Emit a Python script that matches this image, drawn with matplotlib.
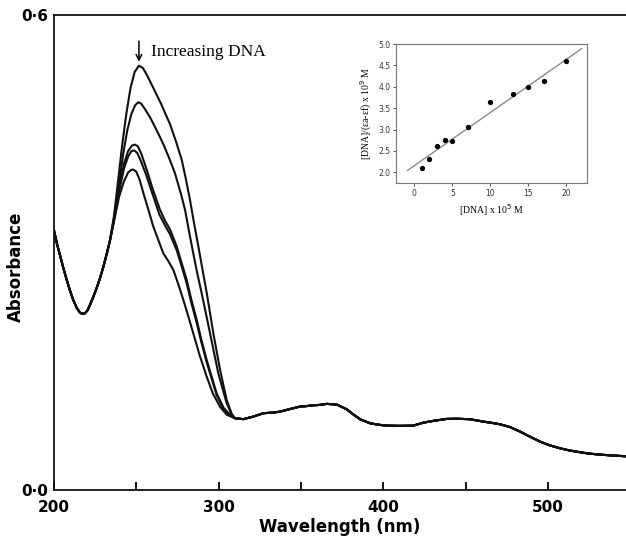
import numpy as np
import matplotlib
matplotlib.use("Agg")
import matplotlib.pyplot as plt

# ---------------- data: main UV-Vis spectra ----------------
# common part at short wavelength (all titrations overlap)
wl_left = [200, 201.8, 203.6, 205.6, 207.7, 209.7, 211.7, 213.8, 215.8, 217.3, 218.8, 220.4, 221.9, 223.9, 225.9, 228, 230, 232, 234]
a_left = [0.328, 0.311, 0.297, 0.281, 0.2656, 0.252, 0.240, 0.230, 0.2240, 0.2225, 0.2232, 0.227, 0.234, 0.244, 0.255, 0.268, 0.282, 0.298, 0.315]

# individual peak regions (increasing DNA -> decreasing absorbance)
wl_c1 = [236.5, 239, 241.5, 244, 246.5, 249, 251.6, 254, 256.5, 260.3, 265, 270.5, 274, 277.6, 280, 282.6, 285, 287.7, 290, 292.8, 296.8, 300.9, 304.9, 308]
a_c1 = [0.347, 0.392, 0.437, 0.476, 0.508, 0.528, 0.536, 0.533, 0.524, 0.508, 0.488, 0.462, 0.441, 0.417, 0.394, 0.3667, 0.338, 0.3077, 0.281, 0.2487, 0.198, 0.1517, 0.1138, 0.096]

wl_c2 = [236.5, 239.5, 242, 244.5, 247, 249.3, 251.2, 253, 255, 258.3, 262, 266.4, 270, 273.5, 277, 279.6, 282, 284.6, 287, 289.7, 294.8, 299.8, 304.9, 308]
a_c2 = [0.344, 0.386, 0.424, 0.454, 0.475, 0.486, 0.4898, 0.488, 0.482, 0.471, 0.456, 0.437, 0.419, 0.400, 0.375, 0.354, 0.327, 0.299, 0.274, 0.2487, 0.198, 0.1476, 0.1096, 0.095]

wl_c3 = [236.5, 239.5, 242.5, 245, 247.3, 249.2, 251, 253, 256.3, 260, 264.4, 267.5, 270.5, 274.5, 277.5, 280.6, 283.5, 286.7, 289.5, 292.8, 298.8, 303, 307]
a_c3 = [0.342, 0.380, 0.412, 0.428, 0.435, 0.4363, 0.434, 0.425, 0.4047, 0.380, 0.354, 0.340, 0.329, 0.308, 0.287, 0.2656, 0.240, 0.215, 0.190, 0.164, 0.122, 0.104, 0.0948]

wl_c4 = [236.5, 239.5, 242.5, 245, 247, 248.6, 250.5, 252.5, 256, 260, 264, 267.5, 270.5, 274.5, 277.5, 280.6, 283.5, 286.7, 289.5, 292.8, 298.8, 303, 307]
a_c4 = [0.341, 0.377, 0.406, 0.421, 0.428, 0.429, 0.426, 0.417, 0.398, 0.373, 0.348, 0.334, 0.323, 0.303, 0.283, 0.261, 0.236, 0.211, 0.187, 0.161, 0.120, 0.102, 0.094]

wl_c5 = [236.5, 239.5, 242.5, 245, 247, 248.2, 250, 252, 254.3, 257.5, 260.3, 263.5, 266.4, 269.5, 272.5, 275.5, 278.6, 281.5, 284.6, 288.5, 292.8, 296.5, 300.9, 305]
a_c5 = [0.340, 0.370, 0.390, 0.401, 0.4045, 0.4047, 0.402, 0.392, 0.375, 0.353, 0.333, 0.315, 0.299, 0.289, 0.278, 0.260, 0.240, 0.220, 0.198, 0.170, 0.143, 0.122, 0.105, 0.095]

# common tail (all titrations overlap)
wl_tail = [310, 315, 321.1, 327.2, 333.3, 337.3, 341, 345.4, 349.5, 353.5, 357.5, 361.6, 365.7, 371.8, 377.8, 381.5, 385.9, 392, 397, 402.1, 410, 418.3, 424.4, 431, 438.6, 445, 452.7, 460.8, 466, 471, 477, 483.1, 489, 495.3, 501, 507.4, 513, 519.6, 525, 531.7, 539, 547.5]
a_tail = [0.0906, 0.0895, 0.0927, 0.097, 0.0978, 0.099, 0.101, 0.1033, 0.1054, 0.106, 0.107, 0.1075, 0.1088, 0.1079, 0.102, 0.096, 0.0894, 0.0843, 0.0825, 0.0813, 0.0810, 0.0813, 0.0851, 0.0875, 0.0898, 0.0900, 0.0894, 0.0864, 0.0848, 0.083, 0.0795, 0.0738, 0.0675, 0.0611, 0.0565, 0.0527, 0.050, 0.0477, 0.0460, 0.0447, 0.0436, 0.0426]

peaks_wl = [wl_c1, wl_c2, wl_c3, wl_c4, wl_c5]
peaks_a = [a_c1, a_c2, a_c3, a_c4, a_c5]

xtick_major = [200, 300, 400, 500]
xtick_minor = [250, 350, 450]
ytick_vals = [0.0, 0.6]
ytick_labels = ["0·0", "0·6"]

# ---------------- data: inset (binding plot) ----------------
dna = [1, 2, 3, 4, 5, 7, 10, 13, 15, 17, 20]
ratio = [2.10, 2.32, 2.61, 2.75, 2.73, 3.05, 3.64, 3.82, 3.99, 4.14, 4.61]
fit_range = [-0.9, 22.0]
inset_xticks = [0, 5, 10, 15, 20]
inset_yticks = [2.0, 2.5, 3.0, 3.5, 4.0, 4.5, 5.0]

# ---------------- figure ----------------
fig = plt.figure(figsize=(6.26, 5.39), dpi=100)
ax = fig.add_axes([54 / 626, 1 - 490 / 539, 1 - 54 / 626, (490 - 15) / 539])

for pw, pa in zip(peaks_wl, peaks_a):
    x = np.concatenate([wl_left, pw, wl_tail])
    y = np.concatenate([a_left, pa, a_tail])
    ax.plot(x, y, color="#111111", lw=1.5, solid_joinstyle="round", solid_capstyle="round")

ax.set_xlim(200, 547.5)
ax.set_ylim(0, 0.6)
ax.spines["right"].set_visible(False)
for s in ["left", "top", "bottom"]:
    ax.spines[s].set_linewidth(1.3)
    ax.spines[s].set_color("#111111")

tickfont = dict(family="DejaVu Sans", weight="bold", size=11)
ax.set_xticks(xtick_major)
ax.set_xticklabels([str(v) for v in xtick_major], fontdict=tickfont)
ax.set_xticks(xtick_minor, minor=True)
ax.tick_params(axis="x", which="both", direction="in", length=6, width=1.3, pad=7, top=False)
ax.set_yticks(ytick_vals)
ax.set_yticklabels(ytick_labels, fontdict=tickfont)
ax.tick_params(axis="y", length=0, pad=4)

ax.set_xlabel("Wavelength (nm)", family="DejaVu Sans", weight="bold", size=12, labelpad=2)
ax.set_ylabel("Absorbance", family="DejaVu Sans", weight="bold", size=12)
ax.yaxis.set_label_coords(-0.051, 0.47)

ax.annotate("", xy=(251.6, 0.541), xytext=(251.6, 0.567),
            arrowprops=dict(arrowstyle="->", lw=1.1, color="black", shrinkA=0, shrinkB=0))
ax.text(259.0, 0.553, "Increasing DNA", family="Liberation Serif", size=12.5,
        ha="left", va="center")

# ---------------- inset ----------------
ins = fig.add_axes([396 / 626, 1 - 183 / 539, (587 - 396) / 626, (183 - 44) / 539])
slope, icpt = np.polyfit(dna, ratio, 1)
fx = np.array(fit_range)
ins.plot(fx, slope * fx + icpt, color="#8a8a8a", lw=1.0)
ins.plot(dna, ratio, "o", color="black", ms=2.8)
ins.set_xlim(-2.4, 22.7)
ins.set_ylim(1.75, 5.0)
ins.set_xticks(inset_xticks)
ins.set_yticks(inset_yticks)
ins.set_yticklabels([f"{v:.1f}" for v in inset_yticks])
ins.tick_params(labelsize=5.5, length=2, width=0.6, pad=2, colors="#333333")
for s in ins.spines.values():
    s.set_linewidth(0.8)
    s.set_color("#777777")
ins.set_xlabel("[DNA] x 10$^5$ M", family="Liberation Serif", size=7, labelpad=3)
ins.set_ylabel("[DNA]/(εa-εf) x 10$^9$ M", family="Liberation Serif", size=7, labelpad=3)

fig.savefig("out.png", dpi=100)
